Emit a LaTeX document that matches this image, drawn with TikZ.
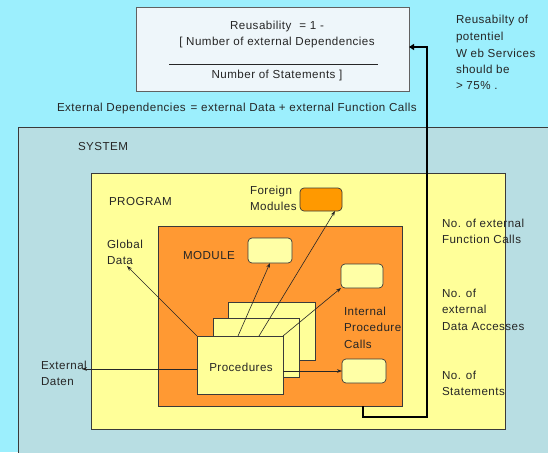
\documentclass[tikz,border=0pt]{standalone}
\usepackage{fontspec}
\setmainfont[LetterSpace=4]{Liberation Sans}
\usetikzlibrary{arrows.meta}

\definecolor{sky}{HTML}{9CEFFD}
\definecolor{sysfill}{HTML}{B8DEE3}
\definecolor{progfill}{HTML}{FFFF99}
\definecolor{modfill}{HTML}{FF9933}
\definecolor{foreignfill}{HTML}{FF9900}
\definecolor{slotfill}{HTML}{FFFFA6}
\definecolor{formfill}{HTML}{EEF6FA}
\definecolor{edge}{HTML}{3A3A3A}

% stacked text lines whose reference point is the first baseline
\newcommand\mlines[1]{\begin{tabular}[t]{@{}l@{}}#1\end{tabular}}

\tikzset{
  every node/.style={font=\fontsize{11.6}{16.5}\selectfont, text=black!85},
  txt/.style={anchor=base west, inner sep=0pt, outer sep=0pt},
  area/.style={draw=edge, line width=0.7pt, anchor=north west, inner sep=0pt, outer sep=0pt},
  slot/.style={area, rounded corners=4pt, fill=slotfill},
  proc/.style={area, fill=progfill},
  thin arrow/.style={draw=black!85, line width=0.6pt, -{Stealth[length=5pt,width=3.6pt]}},
  feedback/.style={draw=black, line width=2pt, -{Stealth[length=5pt,width=6pt,inset=0pt]}}
}

\begin{document}
\begin{tikzpicture}[x=1pt,y=-1pt]
\useasboundingbox (0,0) rectangle (548,452);
\clip (0,0) rectangle (548,452);
\fill[sky] (0,0) rectangle (548,452);

% formula box
\node[area, fill=formfill, draw=edge!80, minimum width=273pt, minimum height=84pt] (formula) at (136,7) {};
\node[anchor=base, inner sep=0pt] (f1) at (277,29.5) {Reusability\hspace{8pt}= 1 -};
\node[anchor=base, inner sep=0pt] (f2) at (277,45.5) {[ Number of external Dependencies};
\draw[line width=0.6pt, black!85] (169,64) -- (378,64);
\node[anchor=base, inner sep=0pt] (f3) at (277,78) {Number of Statements ]};

\node[txt] (goal) at (456,24) {\mlines{Reusabilty of\\potentiel\\W eb Services\\should be\\> 75\% .}};

\node[txt] (extdep) at (57,111) {External Dependencies\hspace{5pt}= external Data + external Function Calls};

% system, program, module
\node[area, fill=sysfill, minimum width=560pt, minimum height=360pt] (system) at (18,127) {};
\node[txt] (systemlbl) at (78,150) {SYSTEM};

\node[area, fill=progfill, minimum width=414pt, minimum height=256pt] (program) at (91,173) {};
\node[txt] (programlbl) at (109,205) {PROGRAM};

\node[txt] (foreignlbl) at (250,194) {\mlines{Foreign\\Modules}};
\node[area, rounded corners=4pt, fill=foreignfill, minimum width=42pt, minimum height=23pt] (foreign) at (300,188) {};

\node[txt] (globallbl) at (107,248) {\mlines{Global\\Data}};
\coordinate (globalpt) at (127,266);

\node[area, fill=modfill, minimum width=244pt, minimum height=180pt] (module) at (158,226) {};
\node[txt] (modulelbl) at (183,259.5) {MODULE};

\node[slot, minimum width=44pt, minimum height=25pt] (slotA) at (248,238) {};
\node[slot, minimum width=42pt, minimum height=24pt] (slotB) at (341,264) {};
\node[slot, minimum width=44pt, minimum height=24pt] (slotC) at (342,359) {};

\node[txt] (ipclbl) at (344,315) {\mlines{Internal\\Procedure\\Calls}};

% stacked procedures
\node[proc, minimum width=87pt, minimum height=58pt] (procC) at (228,302) {};
\node[proc, minimum width=86pt, minimum height=59pt] (procB) at (213,318) {};
\node[proc, minimum width=86pt, minimum height=58pt] (procA) at (197,336) {};
\node[anchor=base, inner sep=0pt] (proclbl) at (241,371) {Procedures};

\node[txt] (extdaten) at (41,369) {\mlines{External\\Daten}};
\coordinate (datenpt) at (82,369);

% calls and accesses
\draw[thin arrow] (procA.north west) -- (globalpt);
\draw[thin arrow] ([yshift=-4pt]procA.west) -- (datenpt);
\draw[thin arrow] ([xshift=41pt]procA.north west) -- (slotA.south);
\draw[thin arrow] ([xshift=62pt]procA.north west) -- ([xshift=14pt]foreign.south);
\draw[thin arrow] (procA.north east) -- (slotB.south west);
\draw[thin arrow] (procA.east |- slotC.west) -- (slotC.west);

% measured quantities
\node[txt] (fcalls) at (442,227) {\mlines{No. of external\\Function Calls}};
\node[txt] (daccess) at (442,297) {\mlines{No. of\\external\\Data Accesses}};
\node[txt] (stmts) at (442,379) {\mlines{No. of\\Statements}};

% feedback into the formula
\coordinate (fbA) at (363,417);
\coordinate (fbB) at (427,417);
\draw[feedback, rounded corners=0pt] (module.south -| fbA) -- (fbA) -- (fbB) -- (fbB |- 0,47) -- (formula.east |- 0,47);
\end{tikzpicture}
\end{document}
